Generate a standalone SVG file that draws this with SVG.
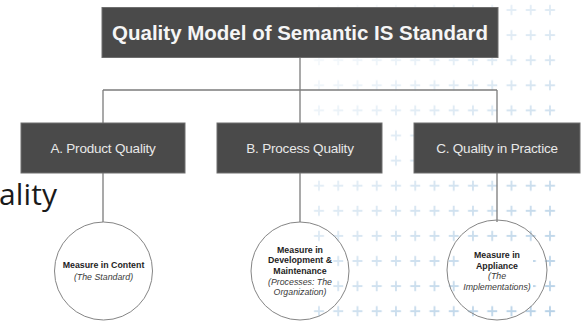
<svg xmlns="http://www.w3.org/2000/svg" width="585" height="321" viewBox="0 0 585 321">
  <style>
    .box { fill: #4a4a4a; stroke: #6e6e6e; stroke-width: 1; }
    .title { font-family: "Liberation Sans", Arial, sans-serif; font-weight: bold; font-size: 20.5px; fill: #f5f5f5; text-anchor: middle; }
    .lbl { font-family: "Liberation Sans", Arial, sans-serif; font-size: 13.5px; fill: #e8e8e8; text-anchor: middle; letter-spacing: -0.2px; }
    .circ { fill: none; stroke: #858585; stroke-width: 1; }
    .cb { font-family: "Liberation Sans", Arial, sans-serif; font-weight: bold; font-size: 8.8px; fill: #1e1e1e; text-anchor: middle; }
    .ci { font-family: "Liberation Sans", Arial, sans-serif; font-style: italic; font-size: 8.8px; fill: #3a3a3a; text-anchor: middle; }
    .conn { stroke: #7c7c7c; stroke-width: 1.3; fill: none; }
    .tbg { fill: #ffffff; }
  </style>
  <defs>
    <pattern id="plus" patternUnits="userSpaceOnUse" x="309.375" y="-2.55" width="19.25" height="25.1">
      <path d="M4.6 12.55 H14.6 M9.6 7.55 V17.55" stroke="#b5d0e6" stroke-width="1.8" fill="none"/>
    </pattern>
    <linearGradient id="fade" gradientUnits="userSpaceOnUse" x1="300" y1="40" x2="560" y2="320">
      <stop offset="0" stop-color="#fff" stop-opacity="0.08"/>
      <stop offset="1" stop-color="#fff" stop-opacity="1"/>
    </linearGradient>
    <mask id="fadeMask" maskUnits="userSpaceOnUse" x="0" y="0" width="585" height="321">
      <rect x="0" y="0" width="585" height="321" fill="url(#fade)"/>
    </mask>
  </defs>
  <rect x="0" y="0" width="585" height="321" fill="#ffffff"/>
  <g id="background">
    <rect x="309" y="0" width="251" height="321" fill="url(#plus)" mask="url(#fadeMask)"/>
    <text x="-1" y="205" font-family="'Open Sans', 'Noto Sans', sans-serif" font-size="30" fill="#1a1a1a" textLength="58">ality</text>
  </g>
  <g id="connectors">
    <path class="conn" d="M300 57.5 V90 M103 90 H497 M103 90 V123 M300 90 V123 M497 90 V123"/>
    <path class="conn" d="M103 173 V222 M300 173 V222 M497 173 V222"/>
  </g>
  <g id="root">
    <rect class="box" x="102" y="7.5" width="396" height="50"/>
    <text class="title" x="300" y="39.5">Quality Model of Semantic IS Standard</text>
  </g>
  <g id="productQuality">
    <rect class="box" x="21" y="123" width="164" height="50"/>
    <text class="lbl" x="103" y="152.5">A. Product Quality</text>
  </g>
  <g id="processQuality">
    <rect class="box" x="217" y="123" width="165" height="50"/>
    <text class="lbl" x="300" y="152.5">B. Process Quality</text>
  </g>
  <g id="qualityInPractice">
    <rect class="box" x="414" y="123" width="166" height="50"/>
    <text class="lbl" x="497" y="152.5">C. Quality in Practice</text>
  </g>
  <g id="measureContent">
    <circle class="circ" cx="103.5" cy="271" r="49"/>
    <text class="cb" x="103.5" y="268">Measure in Content</text>
    <text class="ci" x="103.5" y="280">(The Standard)</text>
  </g>
  <g id="measureDevelopment">
    <circle class="circ" cx="300" cy="271" r="49"/>
    <rect class="tbg" x="267" y="244" width="66" height="54"/>
    <text class="cb" x="300" y="252.5">Measure in</text>
    <text class="cb" x="300" y="263">Development &amp;</text>
    <text class="cb" x="300" y="273.5">Maintenance</text>
    <text class="ci" x="300" y="284.5">(Processes: The</text>
    <text class="ci" x="300" y="295">Organization)</text>
  </g>
  <g id="measureAppliance">
    <circle class="circ" cx="497" cy="270" r="50"/>
    <rect class="tbg" x="462" y="249" width="71" height="44"/>
    <text class="cb" x="497" y="257.5">Measure in</text>
    <text class="cb" x="497" y="268.5">Appliance</text>
    <text class="ci" x="497" y="279">(The</text>
    <text class="ci" x="497" y="289.5">Implementations)</text>
  </g>
</svg>
